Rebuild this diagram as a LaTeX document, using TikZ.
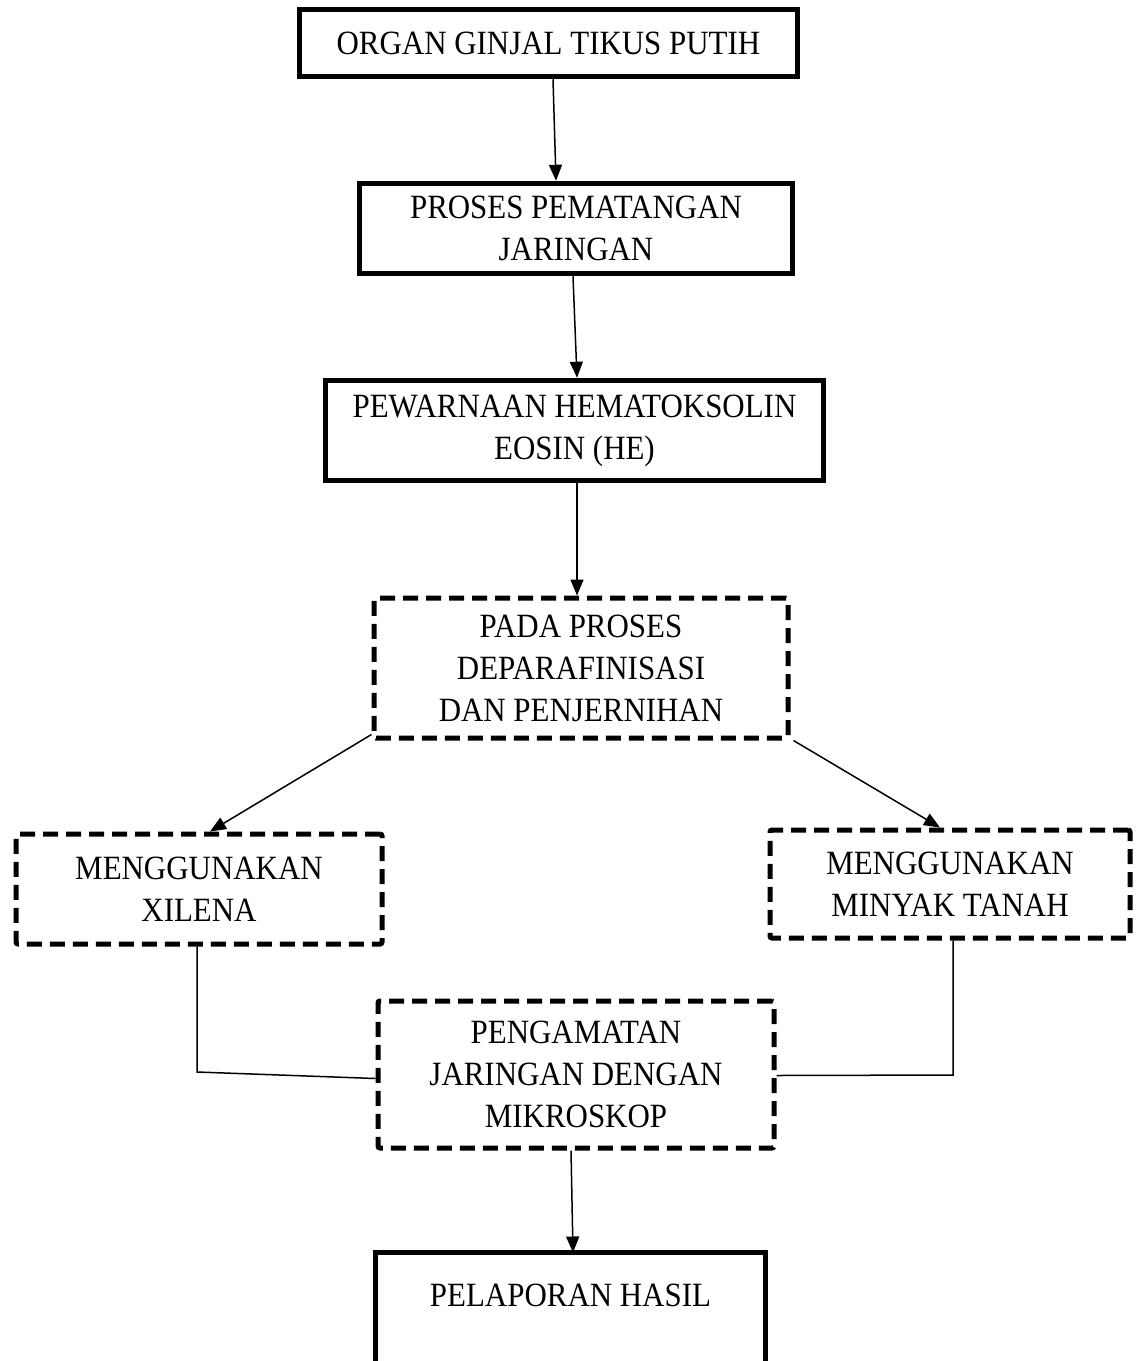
\documentclass[tikz,border=0pt]{standalone}
\usepackage{fontspec}
\setmainfont{Liberation Serif}[FakeStretch=0.91]
\usetikzlibrary{arrows.meta}
\begin{document}
\begin{tikzpicture}[x=1pt,y=-1pt,
  solidbox/.style={draw,line width=5.5pt,rectangle,inner sep=0pt,align=center,
    font=\fontsize{34}{42}\selectfont},
  dashbox/.style={draw,line width=5pt,dash pattern=on 15pt off 8pt,rectangle,
    rounded corners=2pt,inner sep=0pt,align=center,font=\fontsize{34}{42}\selectfont},
  conn/.style={line width=1.5pt},
  arr/.style={conn,-{Triangle[length=16pt,width=13pt]}}]
\useasboundingbox (0,0) rectangle (1136,1361);
\node[solidbox,minimum width=498pt,minimum height=67pt] (b1) at (548.5,43) {ORGAN GINJAL TIKUS PUTIH};
\node[solidbox,minimum width=433pt,minimum height=90pt] (b2) at (576,228.5) {PROSES PEMATANGAN\\JARINGAN};
\node[solidbox,minimum width=498pt,minimum height=100pt] (b3) at (574.5,430.5) {PEWARNAAN HEMATOKSOLIN\\EOSIN (HE)};
\node[dashbox,minimum width=414pt,minimum height=140pt] (b4) at (581,668) {PADA PROSES\\DEPARAFINISASI\\DAN PENJERNIHAN};
\node[dashbox,minimum width=366pt,minimum height=110pt] (b5) at (199,889) {MENGGUNAKAN\\XILENA};
\node[dashbox,minimum width=360pt,minimum height=108pt] (b6) at (950,884) {MENGGUNAKAN\\MINYAK TANAH};
\node[dashbox,minimum width=396pt,minimum height=147pt] (b7) at (576,1074.5) {PENGAMATAN\\JARINGAN DENGAN\\MIKROSKOP};
\node[minimum width=390pt,minimum height=140pt,inner sep=0pt,anchor=north,
  font=\fontsize{34}{42}\selectfont,text depth=0pt] (b8) at (570.5,1252.5) {};
\node[font=\fontsize{34}{42}\selectfont] (t8) at (570.5,1295) {PELAPORAN HASIL};
\draw[line width=5.5pt] (b8.south west) -- (b8.north west) -- (b8.north east) -- (b8.south east);
% arrows
\draw[arr] ([xshift=4.5pt]b1.south) -- ([xshift=-20pt]b2.north);
\draw[arr] ([xshift=-3pt]b2.south) -- ([xshift=2.5pt]b3.north);
\draw[arr] ([xshift=2.5pt]b3.south) -- ([xshift=-4pt]b4.north);
\draw[arr] ([yshift=6pt]b4.south west) -- ([xshift=11pt]b5.north);
\draw[arr] ([xshift=3pt]b4.south east) -- ([xshift=-10pt]b6.north);
\coordinate (l1) at ([xshift=-2pt]b5.south);
\coordinate (r1) at ([xshift=3pt]b6.south);
\draw[conn] (l1) -- (l1 |- 0,1072) -- ([yshift=-4pt]b7.west);
\draw[conn] (r1) -- (r1 |- 0,1075) -- ([yshift=-1pt]b7.east);
\draw[arr] ([xshift=-5pt]b7.south) -- ([xshift=2.5pt]b8.north);
\end{tikzpicture}
\end{document}
